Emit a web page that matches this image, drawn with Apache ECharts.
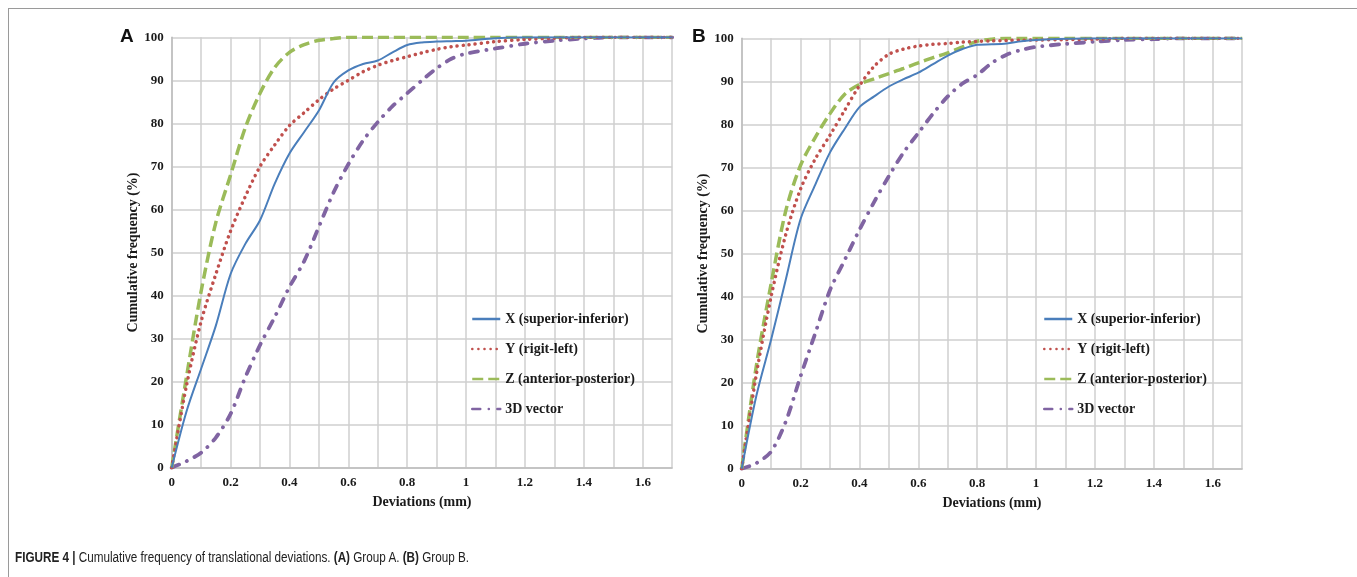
<!DOCTYPE html>
<html>
<head>
<meta charset="utf-8">
<script src="https://cdn.jsdelivr.net/npm/echarts@6/dist/echarts.min.js"></script>
<style>
  body { margin: 0; background: #fff; }
  #frame { position: absolute; left: 8px; top: 8px; width: 1360px; height: 600px;
           border-left: 1.5px solid #9a9a9a; border-top: 1.5px solid #9a9a9a; }
  #chart { position: absolute; left: 0; top: 0; width: 1357px; height: 577px; }
  #caption { position: absolute; left: 15px; top: 548px; font-size: 15.5px; color: #222; white-space: nowrap;
             font-family: "Liberation Sans", Arial, sans-serif; transform: scaleX(0.755); transform-origin: 0 0; }
  #caption b { font-weight: bold; }
</style>
</head>
<body>
<div id="frame"></div>
<div id="chart"></div>
<div id="caption"><b>FIGURE 4 |</b> Cumulative frequency of translational deviations. <b>(A)</b> Group A. <b>(B)</b> Group B.</div>
<script>
(function () {
  var myChart = echarts.init(document.getElementById('chart'));

  // deviations (mm)
  var devs = [0, 0.05, 0.1, 0.15, 0.2, 0.25, 0.3, 0.35, 0.4, 0.45, 0.5, 0.55, 0.6, 0.65, 0.7, 0.75,
              0.8, 0.85, 0.9, 0.95, 1.0, 1.1, 1.2, 1.3, 1.4, 1.5, 1.6, 1.7];
  var names = ['X (superior-inferior)', 'Y (rigit-left)', 'Z (anterior-posterior)', '3D vector'];

  // group A
  var xA = [0, 13, 23, 33, 45, 52, 57.5, 66, 73, 78, 83, 89.5, 92.3, 93.8, 94.6, 96.5,
            98.2, 98.8, 99, 99.1, 99.2, 99.8, 100, 100, 100, 100, 100, 100];
  var yA = [0, 19, 34, 45, 55, 63, 70, 75, 79.5, 82.5, 85.5, 88, 90, 92, 93.5, 94.6,
            95.5, 96.4, 97.2, 97.8, 98.2, 99, 99.5, 99.8, 100, 100, 100, 100];
  var zA = [0, 21, 41, 57, 68, 79, 87, 93, 96.5, 98.3, 99.3, 99.7, 100, 100, 100, 100,
            100, 100, 100, 100, 100, 100, 100, 100, 100, 100, 100, 100];
  var vA = [0, 1.5, 3.5, 7, 12.5, 21, 28.5, 35, 42, 48, 56, 64, 70.5, 76, 80.3, 84,
            87, 90, 92.8, 95, 96.2, 97.4, 98.5, 99.2, 99.7, 100, 100, 100];

  // group B
  var xB = [0, 17, 30, 44, 58, 66, 73.5, 79, 84, 86.5, 88.8, 90.5, 92, 94, 96, 97.5,
            98.5, 98.6, 98.8, 99.3, 99.6, 99.9, 100, 100, 100, 100, 100, 100];
  var yB = [0, 22, 40, 54.5, 65, 72, 77.5, 83.3, 89, 93.5, 96.3, 97.5, 98.2, 98.6, 98.8, 99.1,
            99.3, 99.4, 99.5, 99.55, 99.6, 99.7, 99.8, 100, 100, 100, 100, 100];
  var zB = [0, 24, 43, 60, 70.5, 77, 82.5, 87, 89.3, 90.6, 91.8, 93, 94.3, 95.5, 96.6, 98,
            99.3, 99.8, 100, 100, 100, 100, 100, 100, 100, 100, 100, 100];
  var vB = [0, 1.3, 4, 11, 21.5, 31.5, 41.5, 48.5, 55.5, 62, 68, 73.5, 78, 82.5, 86.5, 89.5,
            91.5, 94.3, 96.2, 97.3, 98, 98.7, 99.2, 99.6, 99.8, 100, 100, 100];

  var colors = ['#4a7ebb', '#c0504d', '#9bbb59', '#8064a2'];
  var dashes = ['solid', [0.1, 6], [11, 5], [8, 8.5, 0.1, 8.5]];
  var widths = [2, 3.5, 3.5, 3.8];
  var caps = ['butt', 'round', 'butt', 'round'];

  var serif = '"Liberation Serif", "Times New Roman", serif';

  function pairs(vals) {
    return devs.map(function (d, i) { return [d, vals[i]]; });
  }

  function makeSeries(groups, axisIdx) {
    return groups.map(function (vals, k) {
      return {
        name: names[k],
        type: 'line',
        xAxisIndex: axisIdx,
        yAxisIndex: axisIdx,
        data: pairs(vals),
        symbol: 'none',
        smooth: 0.3,
        z: 10 - k,
        lineStyle: { color: colors[k], width: widths[k], type: dashes[k], cap: caps[k] },
        itemStyle: { color: colors[k] }
      };
    });
  }

  function xAxisOf(i) {
    return {
      gridIndex: i, type: 'value', min: 0, max: 1.7, interval: 0.1,
      name: 'Deviations (mm)', nameLocation: 'middle', nameGap: 28,
      nameTextStyle: { color: '#1a1a1a', fontFamily: serif, fontWeight: 'bold', fontSize: 14 },
      axisLine: { lineStyle: { color: '#bdbdbd', width: 1.5 } },
      axisTick: { show: false },
      splitLine: { lineStyle: { color: '#cfcfcf', width: 1.5 } },
      axisLabel: {
        margin: 8, color: '#1a1a1a', fontFamily: serif, fontWeight: 'bold', fontSize: 13,
        showMaxLabel: false,
        formatter: function (v) {
          var r = Math.round(v * 10);
          return r % 2 === 0 ? String(r / 10) : '';
        }
      }
    };
  }

  function yAxisOf(i) {
    return {
      gridIndex: i, type: 'value', min: 0, max: 100, interval: 10,
      name: 'Cumulative frequency (%)', nameLocation: 'middle', nameGap: 31,
      nameTextStyle: { color: '#1a1a1a', fontFamily: serif, fontWeight: 'bold', fontSize: 14 },
      axisLine: { show: true, lineStyle: { color: '#bdbdbd', width: 1.5 } },
      axisTick: { show: false },
      splitLine: { lineStyle: { color: '#cfcfcf', width: 1.5 } },
      axisLabel: { margin: 8, color: '#1a1a1a', fontFamily: serif, fontWeight: 'bold', fontSize: 13 }
    };
  }

  function legendOf(left) {
    return {
      left: left, top: 307, orient: 'vertical',
      itemWidth: 28, itemHeight: 14, itemGap: 16,
      data: names,
      itemStyle: { opacity: 0 },
      lineStyle: { width: 2.5 },
      textStyle: { color: '#1a1a1a', fontFamily: serif, fontWeight: 'bold', fontSize: 14 }
    };
  }

  var option = {
    animation: false,
    grid: [
      { left: 171.7, top: 37.3, width: 500.5, height: 430.4 },
      { left: 741.7, top: 38.3, width: 500.5, height: 430.4 }
    ],
    xAxis: [xAxisOf(0), xAxisOf(1)],
    yAxis: [yAxisOf(0), yAxisOf(1)],
    legend: [legendOf(466), legendOf(1038)],
    series: makeSeries([xA, yA, zA, vA], 0).concat(makeSeries([xB, yB, zB, vB], 1)),
    graphic: [
      { type: 'text', left: 120, top: 27, style: { text: 'A', font: 'bold 19px "Liberation Sans", Arial, sans-serif', fill: '#111' } },
      { type: 'text', left: 692, top: 27, style: { text: 'B', font: 'bold 19px "Liberation Sans", Arial, sans-serif', fill: '#111' } }
    ]
  };

  myChart.setOption(option);
  window.addEventListener('resize', function () {
    myChart.resize();
  });
})();
</script>
</body>
</html>
